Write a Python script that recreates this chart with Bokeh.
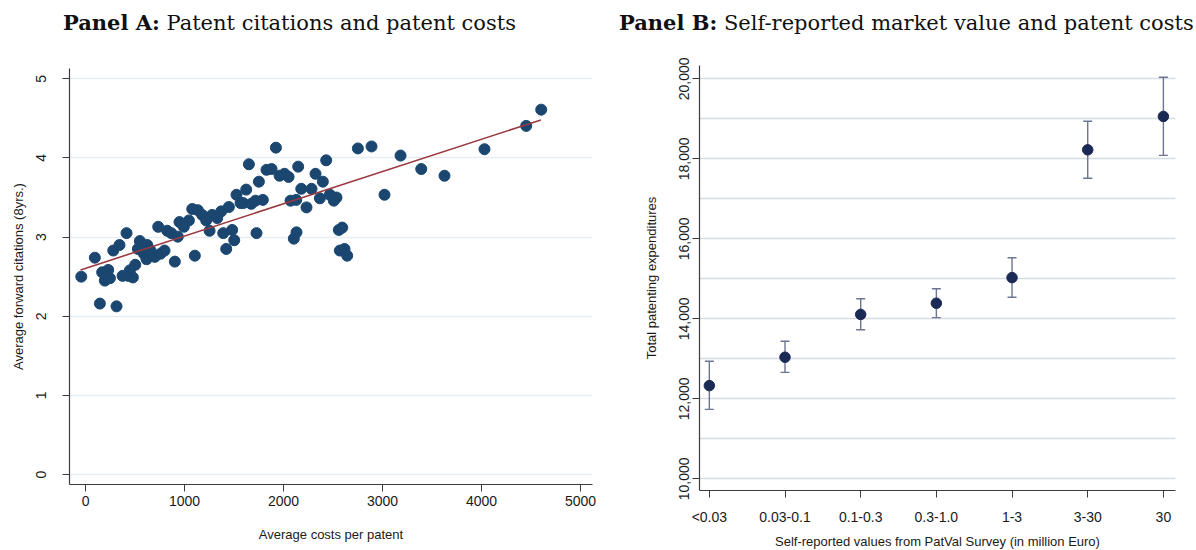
import numpy as np
from bokeh.plotting import figure
from bokeh.models import (Range1d, FixedTicker, Whisker, TeeHead, Div,
                          ColumnDataSource, NumeralTickFormatter)
from bokeh.layouts import row, column
from bokeh.embed import file_html
from bokeh.resources import INLINE

# ---------------- Panel A data ----------------
cost_per_patent = [-43, 94, 145, 313, 168, 229, 195, 246, 280, 343, 414, 374, 431, 478,
                   448, 502, 549, 529, 589, 623, 616, 657, 700, 734, 758, 798, 825, 866,
                   902, 932, 949, 993, 1044, 1078, 1104, 1135, 1178, 1219, 1253, 1279,
                   1330, 1371, 1391, 1421, 1448, 1481, 1502, 1525, 1566, 1593, 1623, 1650,
                   1674, 1727, 1717, 1751, 1791, 1828, 1879, 1923, 1960, 2010, 2051, 2071,
                   2104, 2128, 2131, 2148, 2179, 2232, 2283, 2323, 2367, 2397, 2431, 2468,
                   2508, 2535, 2559, 2593, 2569, 2616, 2643, 2751, 2889, 3020, 3182, 3391,
                   3626, 4030, 4451, 4603]
forward_citations = [2.50, 2.74, 2.16, 2.125, 2.555, 2.585, 2.45, 2.48, 2.83, 2.90, 3.05,
                     2.51, 2.51, 2.49, 2.58, 2.65, 2.95, 2.85, 2.79, 2.90, 2.72, 2.83, 2.75,
                     3.13, 2.79, 2.83, 3.08, 3.05, 2.69, 3.005, 3.19, 3.13, 3.21, 3.355,
                     2.765, 3.34, 3.28, 3.21, 3.08, 3.28, 3.24, 3.325, 3.05, 2.85, 3.38,
                     3.09, 2.96, 3.535, 3.43, 3.43, 3.60, 3.92, 3.42, 3.05, 3.46, 3.70, 3.47,
                     3.85, 3.86, 4.13, 3.775, 3.80, 3.76, 3.46, 2.98, 3.47, 3.06, 3.89, 3.61,
                     3.375, 3.61, 3.80, 3.49, 3.70, 3.97, 3.535, 3.46, 3.50, 3.09, 3.12, 2.83,
                     2.85, 2.765, 4.12, 4.145, 3.535, 4.03, 3.86, 3.775, 4.11, 4.405, 4.61]
fit_x = [-50, 4600]
fit_y = [2.585, 4.48]
a_xticks = [0, 1000, 2000, 3000, 4000, 5000]
a_yticks = [0, 1, 2, 3, 4, 5]

# ---------------- Panel B data ----------------
value_classes = ["<0.03", "0.03-0.1", "0.1-0.3", "0.3-1.0", "1-3", "3-30", "30"]
spend_mean = [12330, 13040, 14110, 14390, 15030, 18225, 19060]
spend_lower = [11735, 12660, 13725, 14030, 14540, 17515, 18085]
spend_upper = [12940, 13440, 14500, 14750, 15525, 18940, 20040]
b_yticks = [10000, 12000, 14000, 16000, 18000, 20000]
b_ygrid = [10000, 11000, 12000, 13000, 14000, 15000, 16000, 17000, 18000, 19000, 20000]

SANS = "Liberation Sans"
SERIF = "DejaVu Serif"
AXIS = "#3c3c3c"
TITLE_H = 46


def style_axes(p, tick_size="14px", title_size="13px"):
    for ax in (p.xaxis, p.yaxis):
        ax.axis_line_color = AXIS
        ax.axis_line_width = 1.2
        ax.major_tick_line_color = AXIS
        ax.major_tick_in = 0
        ax.major_tick_out = 7
        ax.minor_tick_line_color = None
        ax.major_label_text_font = SANS
        ax.major_label_text_font_size = tick_size
        ax.major_label_text_color = "#1a1a1a"
        ax.axis_label_text_font = SANS
        ax.axis_label_text_font_size = title_size
        ax.axis_label_text_font_style = "normal"
        ax.axis_label_text_color = "#1a1a1a"
    p.yaxis.major_label_orientation = "vertical"


def title_div(bold, rest, width, pad_left):
    html = (f'<div style="font-family:\'{SERIF}\';font-size:21px;color:#111;'
            f'white-space:nowrap;padding-left:{pad_left}px;padding-top:8px;">'
            f'<b>{bold}</b> {rest}</div>')
    return Div(text=html, width=width, height=TITLE_H, margin=0)


# ---------------- Panel A ----------------
p1 = figure(frame_width=523, frame_height=416,
            x_range=Range1d(-162, 5121), y_range=Range1d(-0.126, 5.13),
            output_backend="svg", toolbar_location=None,
            min_border_left=69, min_border_right=16, min_border_top=68 - TITLE_H,
            min_border_bottom=66)
p1.outline_line_color = None
p1.background_fill_color = "white"
p1.border_fill_color = "white"
p1.xgrid.grid_line_color = None
p1.ygrid.ticker = FixedTicker(ticks=a_yticks)
p1.ygrid.grid_line_color = "#e6eef4"
p1.ygrid.grid_line_width = 1.3
p1.xaxis.ticker = FixedTicker(ticks=a_xticks)
p1.yaxis.ticker = FixedTicker(ticks=a_yticks)
style_axes(p1)
p1.xaxis.axis_label = "Average costs per patent"
p1.yaxis.axis_label = "Average forward citations (8yrs.)"
p1.xaxis.major_label_standoff = 4
p1.yaxis.major_label_standoff = 16
p1.xaxis.axis_label_standoff = 18
p1.yaxis.axis_label_standoff = 8

p1.scatter(cost_per_patent, forward_citations, size=11, color="#1a4670", line_color="#1a4670")
p1.line(fit_x, fit_y, line_color="#9a3a3f", line_width=1.6)

# ---------------- Panel B ----------------
idx = list(range(len(value_classes)))
p2 = figure(frame_width=476, frame_height=425,
            x_range=Range1d(-0.13, 6.16), y_range=Range1d(9708, 20333),
            output_backend="svg", toolbar_location=None,
            min_border_left=91, min_border_right=21, min_border_top=65 - TITLE_H,
            min_border_bottom=60)
p2.outline_line_color = None
p2.background_fill_color = "white"
p2.border_fill_color = "white"
p2.xgrid.grid_line_color = None
p2.ygrid.ticker = FixedTicker(ticks=b_ygrid)
p2.ygrid.grid_line_color = "#d8dce3"
p2.ygrid.grid_line_width = 1.3
p2.xaxis.ticker = FixedTicker(ticks=idx)
p2.xaxis.major_label_overrides = {i: c for i, c in zip(idx, value_classes)}
p2.yaxis.ticker = FixedTicker(ticks=b_yticks)
p2.yaxis.formatter = NumeralTickFormatter(format="0,0")
style_axes(p2)
p2.xaxis.axis_label = "Self-reported values from PatVal Survey (in million Euro)"
p2.yaxis.axis_label = "Total patenting expenditures"
p2.xaxis.major_label_standoff = 11
p2.yaxis.major_label_standoff = 3
p2.xaxis.axis_label_standoff = 6
p2.yaxis.axis_label_standoff = 18

src = ColumnDataSource(dict(x=idx, lower=spend_lower, upper=spend_upper, mean=spend_mean))
ebar = "#6c7591"
p2.add_layout(Whisker(base="x", lower="lower", upper="upper", source=src,
                      line_color=ebar, line_width=1.4,
                      upper_head=TeeHead(size=9, line_color=ebar, line_width=1.4),
                      lower_head=TeeHead(size=9, line_color=ebar, line_width=1.4)))
p2.scatter("x", "mean", source=src, size=10.5, color="#1b2955", line_color="#1b2955")

tA = title_div("Panel A:", "Patent citations and patent costs", 608, 63)
tB = title_div("Panel B:", "Self-reported market value and patent costs", 588, 11)

layout = row(column(tA, p1, spacing=0), column(tB, p2, spacing=0), spacing=0)
open("out.html", "w").write(file_html(layout, INLINE))
